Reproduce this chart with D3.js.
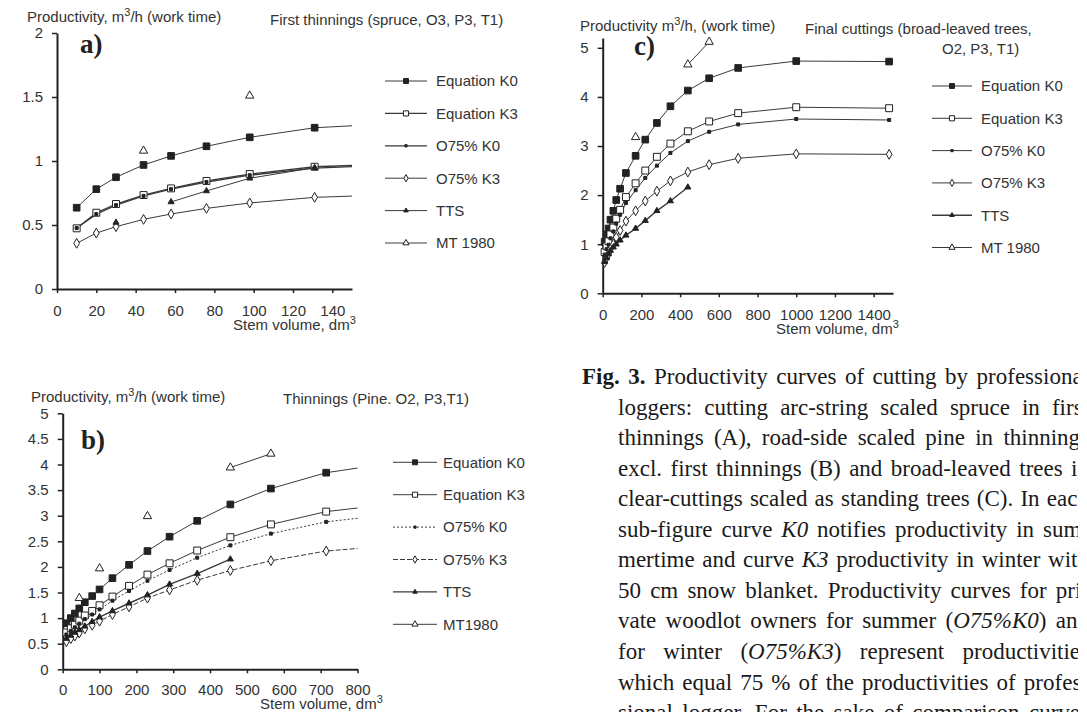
<!DOCTYPE html>
<html><head><meta charset="utf-8">
<script src="https://cdn.jsdelivr.net/npm/d3@7"></script>
<style>body{margin:0;background:#fff} svg{display:block}</style>
</head><body>
<svg id="chart" width="1087" height="712"></svg>
<script>
// ---------------- DATA ----------------
const seriesNames = ["Equation K0","Equation K3","O75% K0","O75% K3","TTS","MT 1980"];
const seriesNamesB = ["Equation K0","Equation K3","O75% K0","O75% K3","TTS","MT1980"];

// Panel a) First thinnings (spruce)
const aStem   = [10, 20, 30, 44, 58, 76, 98, 131, 150];
const aK0     = [0.635, 0.78, 0.873, 0.969, 1.04, 1.115, 1.185, 1.26, 1.275];
const aK3     = [0.474, 0.596, 0.664, 0.734, 0.786, 0.844, 0.898, 0.955, 0.965];
const aO75K0  = [0.476, 0.585, 0.655, 0.727, 0.78, 0.836, 0.889, 0.945, 0.956];
const aO75K3  = [0.357, 0.437, 0.487, 0.544, 0.586, 0.63, 0.672, 0.716, 0.726];
const aTTS    = [null, null, 0.52, null, 0.68, 0.766, 0.865, 0.948, null];
const aMT     = [null, null, null, 1.08, null, null, 1.51, null, null];
const aXTicks = [0, 20, 40, 60, 80, 100, 120, 140];
const aYTicks = [0, 0.5, 1, 1.5, 2];

// Panel b) Thinnings (pine)
const bStem   = [10, 22, 33, 45, 60, 80, 100, 135, 180, 230, 290, 365, 455, 565, 715, 800];
const bK0     = [0.9, 1.0, 1.09, 1.19, 1.31, 1.43, 1.56, 1.78, 2.04, 2.31, 2.59, 2.90, 3.22, 3.53, 3.84, 3.93];
const bK3     = [0.72, 0.8, 0.87, 0.95, 1.05, 1.14, 1.25, 1.42, 1.63, 1.85, 2.07, 2.32, 2.58, 2.83, 3.08, 3.15];
const bO75K0  = [0.68, 0.75, 0.82, 0.89, 0.98, 1.07, 1.17, 1.34, 1.53, 1.73, 1.94, 2.18, 2.42, 2.65, 2.88, 2.95];
const bO75K3  = [0.54, 0.6, 0.65, 0.71, 0.79, 0.86, 0.94, 1.07, 1.22, 1.39, 1.55, 1.74, 1.93, 2.12, 2.31, 2.36];
const bTTS    = [0.6, 0.66, 0.72, 0.77, 0.84, 0.93, 1.02, 1.14, 1.29, 1.45, 1.66, 1.87, 2.15, null, null, null];
const bMT     = [null, null, null, 1.39, null, null, 1.97, null, null, 2.99, null, null, 3.94, 4.21, null, null];
const bXTicks = [0, 100, 200, 300, 400, 500, 600, 700, 800];
const bYTicks = [0, 0.5, 1, 1.5, 2, 2.5, 3, 3.5, 4, 4.5, 5];

// Panel c) Final cuttings (broad-leaved trees)
const cStem   = [10, 20, 30, 40, 55, 70, 90, 120, 170, 220, 280, 350, 440, 550, 700, 1000, 1480];
const cK0     = [1.05, 1.2, 1.32, 1.5, 1.68, 1.9, 2.13, 2.45, 2.8, 3.13, 3.47, 3.81, 4.13, 4.38, 4.59, 4.73, 4.72];
const cK3     = [0.84, 0.96, 1.06, 1.2, 1.34, 1.52, 1.70, 1.96, 2.24, 2.50, 2.78, 3.05, 3.30, 3.50, 3.67, 3.79, 3.77];
const cO75K0  = [0.79, 0.9, 0.99, 1.12, 1.26, 1.42, 1.6, 1.84, 2.1, 2.35, 2.6, 2.86, 3.1, 3.29, 3.44, 3.55, 3.53];
const cO75K3  = [0.63, 0.72, 0.8, 0.9, 1.0, 1.14, 1.28, 1.47, 1.68, 1.88, 2.08, 2.29, 2.47, 2.62, 2.75, 2.84, 2.83];
const cTTS    = [0.64, 0.72, 0.8, 0.87, 0.94, 1.0, 1.08, 1.18, 1.32, 1.48, 1.68, 1.88, 2.16, null, null, null, null];
const cMT     = [null, null, null, null, null, null, null, null, 3.18, null, null, null, 4.66, 5.12, null, null, null];
const cXTicks = [0, 200, 400, 600, 800, 1000, 1200, 1400];
const cYTicks = [0, 1, 2, 3, 4, 5];

const captionLines = [
  "**Fig.** **3.** Productivity curves of cutting by professional",
  "loggers: cutting arc-string scaled spruce in first",
  "thinnings (A), road-side scaled pine in thinnings",
  "excl. first thinnings (B) and broad-leaved trees in",
  "clear-cuttings scaled as standing trees (C). In each",
  "sub-figure curve _K0_ notifies productivity in sum-",
  "mertime and curve _K3_ productivity in winter with",
  "50 cm snow blanket. Productivity curves for pri-",
  "vate woodlot owners for summer (_O75%K0_) and",
  "for winter (_O75%K3_) represent productivities",
  "which equal 75 % of the productivities of profes-",
  "sional logger. For the sake of comparison curves"
];

// ---------------- DRAWING ----------------
const svg = d3.select("#chart");
const SANS = "'Liberation Sans', Arial, sans-serif";
const SERIF = "'Liberation Serif', 'Times New Roman', serif";
const INK = "#333";

const markerStyles = [
  {type: d3.symbolSquare, size: 44, fill: "#222"},
  {type: d3.symbolSquare, size: 48, fill: "#fff"},
  {type: d3.symbolSquare, size: 9,  fill: "#222"},
  {type: d3.symbolDiamond, size: 28, fill: "#fff"},
  {type: d3.symbolTriangle, size: 16, fill: "#222"},
  {type: d3.symbolTriangle, size: 30, fill: "#fff"}
];

function addSup(sel, before, sup, after) {
  sel.append("tspan").text(before);
  sel.append("tspan").attr("dy", -6).attr("font-size", 11).text(sup);
  sel.append("tspan").attr("dy", 6).text(after);
}

function drawPanel(p) {
  const g = svg.append("g");
  const x = d3.scaleLinear().domain(p.xDomain).range(p.xRange);
  const y = d3.scaleLinear().domain(p.yDomain).range(p.yRange);

  const xa = g.append("g").attr("transform", `translate(0,${p.yRange[0]})`)
    .call(d3.axisBottom(x).tickValues(p.xTicks).tickSize(4).tickSizeOuter(0).tickPadding(p.xPad || 13).tickFormat(d3.format("d")));
  const ya = g.append("g").attr("transform", `translate(${p.xRange[0]},0)`)
    .call(d3.axisLeft(y).tickValues(p.yTicks).tickSize(5).tickSizeOuter(0).tickPadding(9).tickFormat(d => String(d)));
  [xa, ya].forEach(a => {
    a.select(".domain").attr("stroke", "#222").attr("stroke-width", 2);
    a.selectAll(".tick line").attr("stroke", "#222").attr("stroke-width", 1.5);
    a.selectAll(".tick text").attr("font-family", SANS).attr("font-size", 15).attr("fill", INK);
  });

  // lines
  p.series.forEach((vals, i) => {
    const pts = p.stem.map((s, j) => [s, vals[j]]);
    g.append("path").datum(pts)
      .attr("d", d3.line().defined(d => d[1] != null).x(d => x(d[0])).y(d => y(d[1])))
      .attr("fill", "none").attr("stroke", "#3a3a3a")
      .attr("stroke-width", (p.widths && p.widths[i]) || 1)
      .attr("stroke-dasharray", (p.dashes && p.dashes[i]) || null);
  });
  // markers
  p.series.forEach((vals, i) => {
    const st = markerStyles[i];
    const pts = p.stem.map((s, j) => [s, vals[j]]).filter(d => d[1] != null && d[0] < p.xDomain[1]);
    g.selectAll(null).data(pts).enter().append("path")
      .attr("d", d3.symbol().type(st.type).size(st.size))
      .attr("transform", d => `translate(${x(d[0])},${y(d[1])})`)
      .attr("fill", st.fill).attr("stroke", "#222").attr("stroke-width", 1);
  });

  // legend
  p.legendNames.forEach((name, i) => {
    const ly = p.legend.y0 + i * p.legend.dy;
    g.append("line").attr("x1", p.legend.x1).attr("x2", p.legend.x2).attr("y1", ly).attr("y2", ly)
      .attr("stroke", "#3a3a3a").attr("stroke-width", (p.widths && p.widths[i]) || 1)
      .attr("stroke-dasharray", (p.dashes && p.dashes[i]) || null);
    const st = markerStyles[i];
    g.append("path").attr("d", d3.symbol().type(st.type).size(st.size * 0.55))
      .attr("transform", `translate(${(p.legend.x1 + p.legend.x2) / 2},${ly})`)
      .attr("fill", st.fill).attr("stroke", "#222").attr("stroke-width", 1);
    g.append("text").attr("x", p.legend.tx).attr("y", ly + 5.3)
      .attr("font-family", SANS).attr("font-size", 15).attr("fill", INK).text(name);
  });

  // titles
  const t1 = g.append("text").attr("x", p.title1.x).attr("y", p.title1.y)
    .attr("font-family", SANS).attr("font-size", 15).attr("fill", INK);
  addSup(t1, p.title1.a, "3", p.title1.b);
  p.title2.forEach(t => g.append("text").attr("x", t.x).attr("y", t.y)
    .attr("font-family", SANS).attr("font-size", 15).attr("fill", INK).text(t.s));
  const xl = g.append("text").attr("x", p.xLabel.x).attr("y", p.xLabel.y)
    .attr("font-family", SANS).attr("font-size", 15).attr("fill", INK);
  addSup(xl, "Stem volume, dm", "3", "");
  g.append("text").attr("x", p.letter.x).attr("y", p.letter.y)
    .attr("font-family", SERIF).attr("font-weight", "bold").attr("font-size", 27).attr("fill", "#222")
    .text(p.letter.s);
}

drawPanel({
  stem: aStem, series: [aK0, aK3, aO75K0, aO75K3, aTTS, aMT], legendNames: seriesNames,
  xDomain: [0, 150], yDomain: [0, 2], xRange: [57, 352], yRange: [289, 33],
  xTicks: aXTicks, yTicks: aYTicks, xPad: 12,
  widths: [1, 1.3, 1.3, 1, 1, 1],
  legend: {x1: 385, x2: 427, tx: 436, y0: 81, dy: 32.4},
  title1: {x: 27, y: 22, a: "Productivity, m", b: "/h (work time)"},
  title2: [{x: 270, y: 25, s: "First thinnings (spruce, O3, P3, T1)"}],
  xLabel: {x: 233, y: 330},
  letter: {x: 80, y: 53, s: "a)"}
});

drawPanel({
  stem: bStem, series: [bK0, bK3, bO75K0, bO75K3, bTTS, bMT], legendNames: seriesNamesB,
  xDomain: [0, 800], yDomain: [0, 5], xRange: [62.7, 357.5], yRange: [669.3, 413.3],
  xTicks: bXTicks, yTicks: bYTicks, xPad: 11,
  widths: [1, 1, 1, 1, 1.4, 1], dashes: [null, null, "2,2", "5,2", null, null],
  legend: {x1: 393, x2: 437, tx: 443, y0: 462.3, dy: 32.4},
  title1: {x: 31, y: 402, a: "Productivity, m", b: "/h (work time)"},
  title2: [{x: 283, y: 404, s: "Thinnings (Pine. O2, P3,T1)"}],
  xLabel: {x: 260, y: 709},
  letter: {x: 81, y: 449, s: "b)"}
});

drawPanel({
  stem: cStem, series: [cK0, cK3, cO75K0, cO75K3, cTTS, cMT], legendNames: seriesNames,
  xDomain: [0, 1500], yDomain: [0, 5.2], xRange: [602.7, 893], yRange: [293.3, 38],
  xTicks: cXTicks, yTicks: cYTicks, xPad: 12,
  widths: [1, 1, 1, 1, 1.4, 1],
  legend: {x1: 932, x2: 972, tx: 981, y0: 86, dy: 32.3},
  title1: {x: 580, y: 31, a: "Productivity m", b: "/h, (work time)"},
  title2: [{x: 805, y: 34, s: "Final cuttings (broad-leaved trees,"}, {x: 942, y: 54, s: "O2, P3, T1)"}],
  xLabel: {x: 776, y: 334},
  letter: {x: 634, y: 55, s: "c)"}
});

// ---------------- CAPTION ----------------
svg.append("clipPath").attr("id", "capclip").append("rect")
  .attr("x", 0).attr("y", 340).attr("width", 1078).attr("height", 380);
const cap = svg.append("g").attr("clip-path", "url(#capclip)");
const R = 1089;
captionLines.forEach((line, li) => {
  const base = 384 + li * 30.55;
  const L = li === 0 ? 582 : 618;
  const words = line.split(" ");
  const els = words.map(w => {
    const t = cap.append("text").attr("y", base).attr("font-family", SERIF)
      .attr("font-size", 23).attr("fill", "#1a1a1a");
    w.split(/(\*\*[^*]+\*\*|_[^_]+_)/).filter(s => s.length).forEach(seg => {
      if (seg.startsWith("**")) t.append("tspan").attr("font-weight", "bold").text(seg.slice(2, -2));
      else if (seg.startsWith("_")) t.append("tspan").attr("font-style", "italic").text(seg.slice(1, -1));
      else t.append("tspan").text(seg);
    });
    return t;
  });
  const widths = els.map(t => t.node().getComputedTextLength());
  const total = d3.sum(widths);
  const gap = (R - L - total) / (words.length - 1);
  let cx = L;
  els.forEach((t, i) => { t.attr("x", cx); cx += widths[i] + gap; });
});
</script>
</body></html>
